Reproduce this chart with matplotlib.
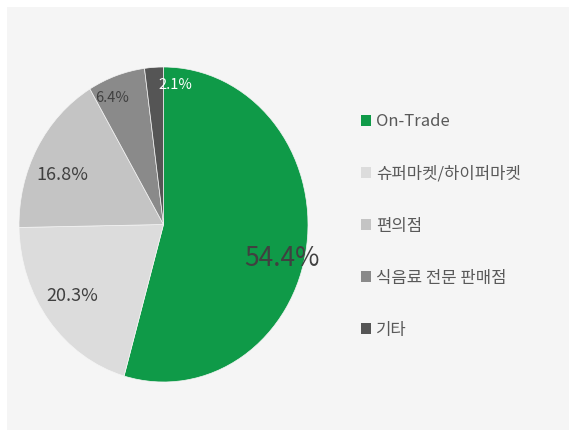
import numpy as np
import matplotlib.pyplot as plt
from matplotlib.patches import Rectangle, Patch

plt.rcParams['font.family'] = ['Noto Sans CJK KR', 'DejaVu Sans']

labels = ['On-Trade', '슈퍼마켓/하이퍼마켓', '편의점', '식음료 전문 판매점', '기타']
shares = [54.4, 20.3, 16.8, 6.4, 2.1]
colors = ['#0f9a48', '#dcdcdc', '#c4c4c4', '#8a8a8a', '#555555']
pct_colors = ['#404040', '#404040', '#404040', '#404040', '#ffffff']
pct_sizes = [19, 13, 13, 10.5, 10.5]
# radial position of each percentage label (fraction of radius) and angle nudge
pct_radius = [0.85, 0.78, 0.77, 0.88, 0.89]
pct_nudge = [-7, -2, 5, 5, -9]

W, H = 569, 430
fig = plt.figure(figsize=(W / 100, H / 100), dpi=100, facecolor='white')
fig.patches.append(Rectangle((7 / W, 0), 1, 1 - 7 / H, transform=fig.transFigure,
                             facecolor='#f5f5f5', edgecolor='none', zorder=-10))

# pie is slightly stretched vertically in the original
ax = fig.add_axes([19 / W, 1 - 382 / H, 289 / W, 315 / H])
ax.set_facecolor('none')
wedges, _ = ax.pie(shares, colors=colors, startangle=90, counterclock=False,
                   radius=1, wedgeprops=dict(edgecolor='#f5f5f5', linewidth=0.5))
ax.set_aspect('auto')
ax.set_xlim(-1, 1)
ax.set_ylim(-1, 1)
ax.axis('off')

for w, v, c, s, r, d in zip(wedges, shares, pct_colors, pct_sizes, pct_radius, pct_nudge):
    mid = np.deg2rad((w.theta1 + w.theta2) / 2 + d)
    ax.text(r * np.cos(mid), r * np.sin(mid), f'{v}%', color=c, fontsize=s,
            ha='center', va='center')

handles = [Patch(facecolor=c, edgecolor='none') for c in colors]
leg = fig.legend(handles, labels, loc='center left', bbox_to_anchor=(354 / W, 1 - 226 / H),
                 frameon=False, fontsize=12, labelcolor='#595959',
                 handlelength=0.62, handleheight=0.62, handletextpad=0.3,
                 labelspacing=2.1, borderaxespad=0)

fig.savefig('out.png', dpi=100, facecolor=fig.get_facecolor())
